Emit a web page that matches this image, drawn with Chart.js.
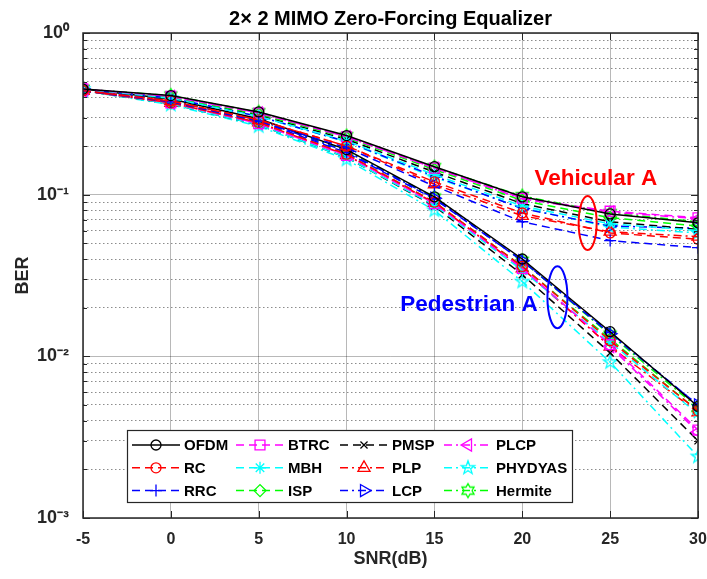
<!DOCTYPE html>
<html>
<head>
<meta charset="utf-8">
<script src="https://cdn.jsdelivr.net/npm/chart.js@4"></script>
<style>
html, body { margin: 0; padding: 0; background: #fff; }
</style>
</head>
<body>
<canvas id="ber" width="707" height="579"></canvas>
<script>
// SNR points (dB)
const snrDb = [-5, 0, 5, 10, 15, 20, 25, 30];
const xTicks = [-5, 0, 5, 10, 15, 20, 25, 30];
const yMajor = [1e-3, 1e-2, 1e-1, 1];

const schemes = ["OFDM", "RC", "RRC", "BTRC", "MBH", "ISP", "PMSP", "PLP", "LCP", "PLCP", "PHYDYAS", "Hermite"];

// Vehicular A channel, one row per scheme (same order as schemes)
const berVehA = [
    [0.45, 0.41, 0.325, 0.232, 0.149, 0.097, 0.076, 0.067],   // OFDM
    [0.44, 0.38, 0.29, 0.20, 0.12, 0.077, 0.058, 0.053],      // RC
    [0.44, 0.375, 0.285, 0.195, 0.113, 0.068, 0.052, 0.047],  // RRC
    [0.45, 0.405, 0.32, 0.228, 0.146, 0.095, 0.079, 0.072],   // BTRC
    [0.45, 0.395, 0.305, 0.215, 0.133, 0.085, 0.066, 0.060],  // MBH
    [0.45, 0.40, 0.315, 0.225, 0.143, 0.092, 0.072, 0.064],   // ISP
    [0.45, 0.395, 0.31, 0.22, 0.138, 0.088, 0.068, 0.061],    // PMSP
    [0.44, 0.38, 0.29, 0.20, 0.116, 0.074, 0.059, 0.055],     // PLP
    [0.45, 0.395, 0.305, 0.213, 0.13, 0.082, 0.064, 0.062],   // LCP
    [0.45, 0.405, 0.32, 0.228, 0.146, 0.094, 0.078, 0.071],   // PLCP
    [0.45, 0.395, 0.305, 0.212, 0.128, 0.083, 0.063, 0.058],  // PHYDYAS
    [0.45, 0.41, 0.323, 0.23, 0.148, 0.098, 0.077, 0.068],    // Hermite
];

// Pedestrian A channel
const berPedA = [
    [0.45, 0.39, 0.295, 0.19, 0.097, 0.040, 0.0142, 0.0049],  // OFDM
    [0.44, 0.37, 0.28, 0.178, 0.09, 0.036, 0.0125, 0.0046],   // RC
    [0.44, 0.375, 0.285, 0.182, 0.094, 0.039, 0.014, 0.0050], // RRC
    [0.44, 0.37, 0.275, 0.175, 0.088, 0.035, 0.0118, 0.0035], // BTRC
    [0.44, 0.365, 0.27, 0.17, 0.086, 0.034, 0.0122, 0.0044],  // MBH
    [0.44, 0.37, 0.28, 0.178, 0.09, 0.036, 0.0128, 0.0046],   // ISP
    [0.44, 0.365, 0.27, 0.17, 0.085, 0.032, 0.0105, 0.0030],  // PMSP
    [0.44, 0.37, 0.28, 0.176, 0.089, 0.035, 0.0115, 0.0045],  // PLP
    [0.45, 0.38, 0.29, 0.185, 0.095, 0.039, 0.0138, 0.0050],  // LCP
    [0.44, 0.37, 0.275, 0.175, 0.088, 0.035, 0.0115, 0.0034], // PLCP
    [0.44, 0.36, 0.265, 0.165, 0.08, 0.029, 0.0092, 0.0024],  // PHYDYAS
    [0.45, 0.385, 0.29, 0.187, 0.096, 0.039, 0.0136, 0.0048], // Hermite
];

const FONT = "'Liberation Sans', Arial, Helvetica, sans-serif";
const DASH = [8, 5];
const DASHDOT = [8, 4, 2, 4];

// star markers (pentagram / hexagram), outline only
function starMarker(points, inner, r, color) {
    const c = document.createElement("canvas");
    const s = Math.ceil(r * 2 + 4);
    c.width = s;
    c.height = s;
    const g = c.getContext("2d");
    g.strokeStyle = color;
    g.lineWidth = 1.3;
    g.beginPath();
    for (let i = 0; i < points * 2; i++) {
        const rr = i % 2 ? r * inner : r;
        const a = -Math.PI / 2 + (i * Math.PI) / points;
        const px = s / 2 + rr * Math.cos(a);
        const py = s / 2 + rr * Math.sin(a);
        if (i === 0) g.moveTo(px, py);
        else g.lineTo(px, py);
    }
    g.closePath();
    g.stroke();
    return c;
}

const styles = [
    { color: "#000000", dash: [], marker: "circle", radius: 5 },
    { color: "#ff0000", dash: DASH, marker: "circle", radius: 5 },
    { color: "#0000ff", dash: DASH, marker: "cross", radius: 6 },
    { color: "#ff00ff", dash: DASH, marker: "rect", radius: 7 },
    { color: "#00ffff", dash: DASH, marker: "star", radius: 6 },
    { color: "#00ff00", dash: DASH, marker: "rectRot", radius: 6 },
    { color: "#000000", dash: DASH, marker: "crossRot", radius: 5 },
    { color: "#ff0000", dash: DASHDOT, marker: "triangle", radius: 7 },
    { color: "#0000ff", dash: DASHDOT, marker: "triangle", radius: 7, rotation: 90 },
    { color: "#ff00ff", dash: DASHDOT, marker: "triangle", radius: 7, rotation: -90 },
    { color: "#00ffff", dash: DASHDOT, marker: starMarker(5, 0.4, 7, "#00ffff"), radius: 7 },
    { color: "#00ff00", dash: DASHDOT, marker: starMarker(6, 0.58, 7, "#00ff00"), radius: 7 },
];

function makeDataset(name, values, st) {
    return {
        label: name,
        data: snrDb.map((x, i) => ({ x: x, y: values[i] })),
        borderColor: st.color,
        backgroundColor: "rgba(0,0,0,0)",
        borderWidth: 1.5,
        borderDash: st.dash,
        pointStyle: st.marker,
        pointRotation: st.rotation || 0,
        pointRadius: st.radius,
        pointBorderWidth: 1.3,
        pointBorderColor: st.color,
        pointBackgroundColor: "rgba(0,0,0,0)",
        tension: 0,
        fill: false,
    };
}

const datasets = [];
schemes.forEach((s, i) => datasets.push(makeDataset(s, berVehA[i], styles[i])));
schemes.forEach((s, i) => datasets.push(makeDataset(s, berPedA[i], styles[i])));

// minor decade ticks for the dotted grid
const yMinor = [];
for (let d = -3; d < 0; d++) {
    for (let k = 2; k <= 9; k++) yMinor.push(k * Math.pow(10, d));
}

// annotations (data coordinates)
const notes = [
    { text: "Vehicular A", color: "#ff0000", x: 20.7, y: 0.115 },
    { text: "Pedestrian A", color: "#0000ff", x: 13.05, y: 0.019 },
];
const rings = [
    { color: "#ff0000", x: 23.72, y: 0.0668, rx: 9, ry: 27 },
    { color: "#0000ff", x: 22.0, y: 0.0232, rx: 10, ry: 31 },
];

const sup = { "-": "\u207B", "0": "\u2070", "1": "\u00B9", "2": "\u00B2", "3": "\u00B3" };

const framePlugin = {
    id: "frame",
    afterDatasetsDraw(chart) {
        const { ctx, chartArea: a, scales } = chart;
        const xs = scales.x, ys = scales.y;
        ctx.save();

        // annotations
        rings.forEach((r) => {
            ctx.beginPath();
            ctx.strokeStyle = r.color;
            ctx.lineWidth = 2;
            ctx.ellipse(xs.getPixelForValue(r.x), ys.getPixelForValue(r.y), r.rx, r.ry, 0, 0, Math.PI * 2);
            ctx.stroke();
        });
        ctx.font = "bold 22.5px " + FONT;
        ctx.textAlign = "left";
        ctx.textBaseline = "alphabetic";
        notes.forEach((n) => {
            ctx.fillStyle = n.color;
            ctx.fillText(n.text, xs.getPixelForValue(n.x), ys.getPixelForValue(n.y));
        });

        // axes box with inward ticks
        ctx.strokeStyle = "#262626";
        ctx.lineWidth = 1.5;
        ctx.setLineDash([]);
        ctx.strokeRect(a.left, a.top, a.right - a.left, a.bottom - a.top);
        ctx.lineWidth = 1;
        ctx.beginPath();
        yMinor.concat(yMajor).forEach((v) => {
            const py = Math.round(ys.getPixelForValue(v)) + 0.5;
            const len = yMajor.includes(v) ? 7 : 4;
            ctx.moveTo(a.left, py); ctx.lineTo(a.left + len, py);
            ctx.moveTo(a.right, py); ctx.lineTo(a.right - len, py);
        });
        xTicks.forEach((v) => {
            const px = Math.round(xs.getPixelForValue(v)) + 0.5;
            ctx.moveTo(px, a.bottom); ctx.lineTo(px, a.bottom - 7);
            ctx.moveTo(px, a.top); ctx.lineTo(px, a.top + 7);
        });
        ctx.stroke();

        // legend box
        const lx = a.left + 44, ly = a.bottom - 88, lw = 445, lh = 72;
        ctx.fillStyle = "#ffffff";
        ctx.fillRect(lx, ly, lw, lh);
        ctx.strokeStyle = "#262626";
        ctx.lineWidth = 1.2;
        ctx.strokeRect(lx + 0.5, ly + 0.5, lw, lh);
        ctx.font = "bold 15px " + FONT;
        ctx.textBaseline = "middle";
        schemes.forEach((name, i) => {
            const st = styles[i];
            const col = Math.floor(i / 3), row = i % 3;
            const x0 = lx + 5 + col * 104;
            const y0 = ly + 15 + row * 22.8;
            ctx.strokeStyle = st.color;
            ctx.lineWidth = 1.5;
            ctx.setLineDash(st.dash);
            ctx.beginPath();
            ctx.moveTo(x0, y0);
            ctx.lineTo(x0 + 48, y0);
            ctx.stroke();
            ctx.setLineDash([]);
            ctx.lineWidth = 1.3;
            ctx.fillStyle = "rgba(0,0,0,0)";
            if (Chart.helpers && Chart.helpers.drawPoint) {
                Chart.helpers.drawPoint(ctx, {
                    pointStyle: st.marker,
                    rotation: st.rotation || 0,
                    radius: st.radius,
                    borderWidth: 1.3,
                }, x0 + 24, y0);
            }
            ctx.fillStyle = "#000000";
            ctx.fillText(name, x0 + 52, y0 + 1);
        });
        ctx.restore();
    },
};

const ctx = document.getElementById("ber").getContext("2d");
const berChart = new Chart(ctx, {
    type: "line",
    data: { datasets: datasets },
    plugins: [framePlugin],
    options: {
        responsive: false,
        devicePixelRatio: 1,
        animation: false,
        events: [],
        layout: { padding: { left: 0, right: 0, top: 0, bottom: 0 } },
        plugins: {
            legend: { display: false },
            tooltip: { enabled: false },
            title: {
                display: true,
                fullSize: false,
                text: "2\u00D7 2 MIMO Zero-Forcing Equalizer",
                color: "#000000",
                font: { family: FONT, size: 20, weight: "bold" },
                padding: { top: 7.5, bottom: 1.5 },
            },
        },
        scales: {
            x: {
                type: "linear",
                min: -5,
                max: 30,
                afterBuildTicks: (scale) => {
                    scale.ticks = xTicks.map((v) => ({ value: v }));
                },
                afterFit: (scale) => {
                    scale.height = 61;
                    scale.paddingLeft = 0;
                    scale.paddingRight = 9;
                },
                ticks: {
                    color: "#262626",
                    padding: 12,
                    font: { family: FONT, size: 16, weight: "bold" },
                },
                grid: { color: "rgba(0,0,0,0.28)", lineWidth: 1, drawTicks: false },
                border: { display: false },
                title: {
                    display: true,
                    text: "SNR(dB)",
                    color: "#262626",
                    font: { family: FONT, size: 18, weight: "bold" },
                    padding: { top: 0, bottom: 9 },
                },
            },
            y: {
                type: "logarithmic",
                position: "left",
                min: 1e-3,
                max: 1,
                afterBuildTicks: (scale) => {
                    scale.ticks = yMajor.map((v) => ({ value: v }));
                },
                afterFit: (scale) => {
                    scale.width = 83;
                },
                ticks: {
                    color: "#262626",
                    padding: 14,
                    font: { family: FONT, size: 18, weight: "bold" },
                    callback: (v) => "10" + String(Math.round(Math.log10(v))).split("").map((c) => sup[c]).join(""),
                },
                grid: { color: "rgba(0,0,0,0.28)", lineWidth: 1, drawTicks: false },
                border: { display: false },
                title: {
                    display: true,
                    text: "BER",
                    color: "#262626",
                    font: { family: FONT, size: 18, weight: "bold" },
                    padding: { top: 12, bottom: 0 },
                },
            },
            yMinor: {
                type: "logarithmic",
                position: "left",
                min: 1e-3,
                max: 1,
                afterBuildTicks: (scale) => {
                    scale.ticks = yMinor.map((v) => ({ value: v }));
                },
                afterFit: (scale) => {
                    scale.width = 0;
                },
                ticks: { display: false },
                grid: { color: "rgba(0,0,0,0.45)", lineWidth: 1, drawTicks: false, borderDash: [1.5, 2.5] },
                border: { display: false, dash: [1.5, 2.5] },
            },
        },
    },
});
</script>
</body>
</html>
